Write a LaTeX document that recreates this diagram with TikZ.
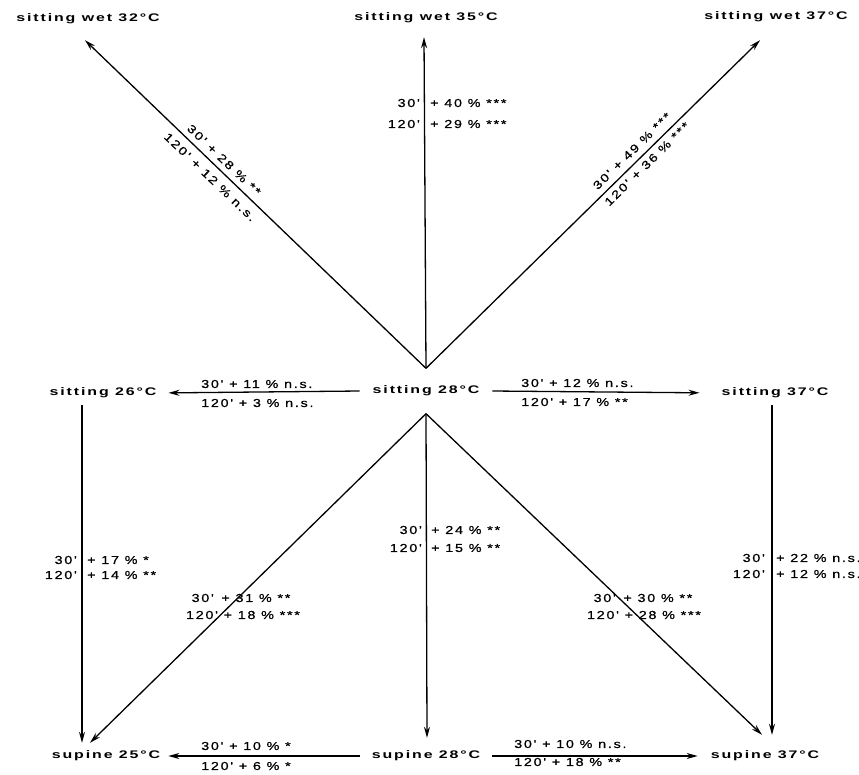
\documentclass[tikz,border=0pt]{standalone}
\usepackage{fontspec}
\newfontfamily\nmfont{Liberation Sans}[FakeStretch=1.45, LetterSpace=17]
\newfontfamily\lbfont{Liberation Sans}[FakeStretch=1.25, LetterSpace=15, FakeBold=0.7]
\usetikzlibrary{arrows.meta}
\begin{document}
\begin{tikzpicture}[x=1pt,y=-1pt,
  nm/.style={font=\nmfont\bfseries\fontsize{11}{12}\selectfont, inner sep=0pt, minimum height=14pt},
  lb/.style={font=\lbfont\fontsize{11.5}{12}\selectfont, inner sep=1pt},
  arr/.style={line width=1.3pt, -{Stealth[length=11pt,width=6pt]}}]
\useasboundingbox[fill=white] (0,0) rectangle (859,774);

% main nodes
\node[nm] (w32) at (88,19) {sitting wet 32°\,C};
\node[nm] (w35) at (426,18) {sitting wet 35°\,C};
\node[nm] (w37) at (776,17) {sitting wet 37°\,C};
\node[nm, minimum height=45pt, inner xsep=13pt] (s28) at (426,391) {sitting 28°\,C};
\node[nm] (s26) at (103,393) {sitting 26°\,C};
\node[nm] (s37) at (775,393) {sitting 37°\,C};
\node[nm, inner xsep=12pt] (p28) at (426,756) {supine 28°\,C};
\node[nm] (p25) at (106,756) {supine 25°\,C};
\node[nm] (p37) at (765,756) {supine 37°\,C};

% upward arrows
\draw[arr] (s28.north) -- ([xshift=-3pt,yshift=-14pt]w32.south);
\draw[arr] (s28.north) -- ([xshift=-2pt,yshift=-12pt]w35.south);
\draw[arr] (s28.north) -- ([xshift=-16pt,yshift=-16pt]w37.south);

% horizontal arrows
\draw[arr, shorten >=12pt] (s28.west) -- (s26.east);
\draw[arr, shorten >=22pt] (s28.east) -- (s37.west);
\draw[arr, shorten >=8pt] (p28.west) -- (p25.east);
\draw[arr, shorten >=13pt] (p28.east) -- (p37.west);

% downward arrows
\draw[arr] ([xshift=-21pt,yshift=-5pt]s26.south) -- ([xshift=-24pt,yshift=6pt]p25.north);
\draw[arr] (s28.south) -- ([xshift=-16pt,yshift=6pt]p25.north);
\draw[arr] (s28.south) -- ([xshift=1pt,yshift=11pt]p28.north);
\draw[arr] (s28.south) -- ([xshift=-3pt,yshift=14pt]p37.north);
\draw[arr] ([xshift=-3pt,yshift=-5pt]s37.south) -- ([xshift=7pt,yshift=14pt]p37.north);

% labels: upper diagonals
\node[lb, rotate=-43.8] (l1a) at (224,160) {30' + 28 \% **};
\node[lb, rotate=-43.8] (l1b) at (210,177) {120' + 12 \% n.s.};
\node[lb, rotate=44.6] (l3a) at (632,151) {30' + 49 \% ***};
\node[lb, rotate=44.6] (l3b) at (647,164) {120' + 36 \% ***};

% labels: top vertical
\node[lb, anchor=east] (t1l) at (421,103) {30'};
\node[lb, anchor=west] (t1r) at (429,103) {+ 40 \% ***};
\node[lb, anchor=east] (t2l) at (421,124) {120'};
\node[lb, anchor=west] (t2r) at (429,124) {+ 29 \% ***};

% labels: horizontal
\node[lb, anchor=west] (h1a) at (200,384) {30' + 11 \% n.s.};
\node[lb, anchor=west] (h1b) at (200,403) {120' + 3 \% n.s.};
\node[lb, anchor=west] (h2a) at (520,383) {30' + 12 \% n.s.};
\node[lb, anchor=west] (h2b) at (520,402) {120' + 17 \% **};
\node[lb, anchor=west] (h3a) at (200,746) {30' + 10 \% *};
\node[lb, anchor=west] (h3b) at (200,766) {120' + 6 \% *};
\node[lb, anchor=west] (h4a) at (513,744) {30' + 10 \% n.s.};
\node[lb, anchor=west] (h4b) at (513,762) {120' + 18 \% **};

% labels: verticals
\node[lb, anchor=east] (v1a) at (78,560) {30'};
\node[lb, anchor=west] (v1b) at (86,560) {+ 17 \% *};
\node[lb, anchor=east] (v1c) at (78,575) {120'};
\node[lb, anchor=west] (v1d) at (86,575) {+ 14 \% **};
\node[lb, anchor=east] (v2a) at (423,530) {30'};
\node[lb, anchor=west] (v2b) at (430,530) {+ 24 \% **};
\node[lb, anchor=east] (v2c) at (423,548) {120'};
\node[lb, anchor=west] (v2d) at (430,548) {+ 15 \% **};
\node[lb, anchor=east] (v3a) at (766,558) {30'};
\node[lb, anchor=west] (v3b) at (775,558) {+ 22 \% n.s.};
\node[lb, anchor=east] (v3c) at (766,574) {120'};
\node[lb, anchor=west] (v3d) at (775,574) {+ 12 \% n.s.};

% labels: lower diagonals
\node[lb] (d1a) at (241,598) {30'\, + 31 \% **};
\node[lb] (d1b) at (243,615) {120' + 18 \% ***};
\node[lb] (d2a) at (643,598) {30'\, + 30 \% **};
\node[lb] (d2b) at (644,615) {120' + 28 \% ***};
\end{tikzpicture}
\end{document}
